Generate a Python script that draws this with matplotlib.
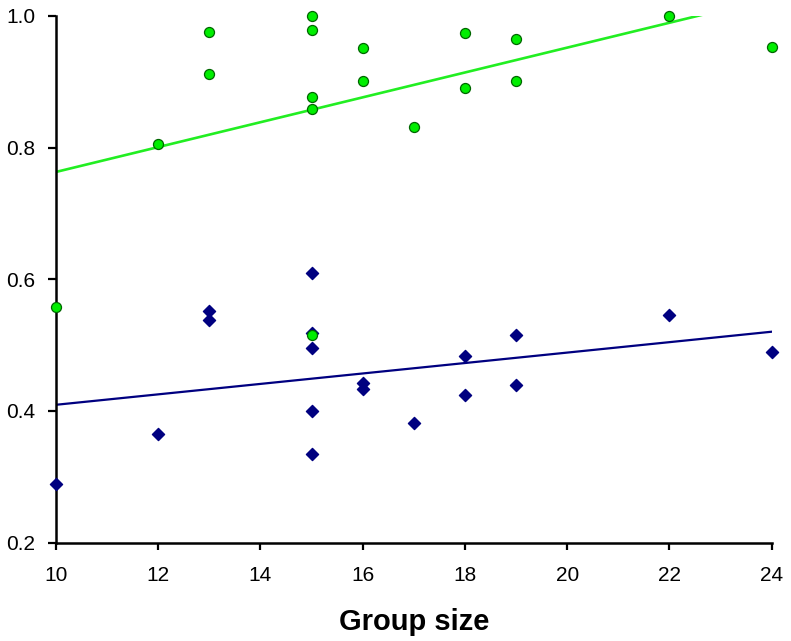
import matplotlib
matplotlib.use("Agg")
import matplotlib.pyplot as plt
import numpy as np

plt.rcParams['font.family'] = ['Liberation Sans', 'DejaVu Sans']

# green series (circles)
green_x = [10, 12, 13, 13, 15, 15, 15, 15, 15, 16, 16, 17, 18, 18, 19, 19, 22, 24]
green_y = [0.558, 0.805, 0.976, 0.912, 1.000, 0.979, 0.877, 0.859, 0.516,
           0.951, 0.901, 0.832, 0.974, 0.890, 0.965, 0.901, 1.000, 0.953]

# navy series (diamonds)
navy_x = [10, 12, 13, 13, 15, 15, 15, 15, 15, 16, 16, 17, 18, 18, 19, 19, 22, 24]
navy_y = [0.289, 0.365, 0.552, 0.538, 0.610, 0.518, 0.495, 0.400, 0.334,
          0.443, 0.433, 0.382, 0.484, 0.425, 0.515, 0.439, 0.546, 0.489]

x_ticks = [10, 12, 14, 16, 18, 20, 22, 24]
y_ticks = [0.2, 0.4, 0.6, 0.8, 1.0]

fig = plt.figure(figsize=(7.91, 6.41), dpi=100)
ax = fig.add_axes([0.0708, 0.1534, 0.9048, 0.8218])

# linear trend lines
xs = np.array([10, 24])
nb = np.polyfit(navy_x, navy_y, 1)
gb = np.polyfit(green_x, green_y, 1)
print("navy fit", nb, np.polyval(nb, xs))
print("green fit", gb, np.polyval(gb, xs))

ax.plot(xs, np.polyval(nb, xs), color='#000080', lw=1.6, zorder=2)
ax.plot(xs, np.polyval(gb, xs), color='#22ee22', lw=1.9, zorder=2)

ax.scatter(navy_x, navy_y, marker='D', s=38, color='#000080', zorder=3, clip_on=False)
ax.scatter(green_x, green_y, marker='o', s=52, facecolor='#00ee00',
           edgecolor='#006600', linewidth=0.9, zorder=4, clip_on=False)

ax.set_xlim(10, 24)
ax.set_ylim(0.2, 1.0)
ax.set_xticks(x_ticks)
ax.set_yticks(y_ticks)
ax.set_yticklabels([f"{v:.1f}" for v in y_ticks])

for s in ['top', 'right']:
    ax.spines[s].set_visible(False)
for s in ['left', 'bottom']:
    ax.spines[s].set_linewidth(1.8)

ax.tick_params(axis='x', direction='out', length=5, width=1.6, pad=12, labelsize=15)
ax.tick_params(axis='y', direction='out', length=6, width=1.6, pad=9, labelsize=15)

ax.set_xlabel('Group size', fontsize=21, fontweight='bold', labelpad=16)

fig.savefig('out.png', dpi=100)
